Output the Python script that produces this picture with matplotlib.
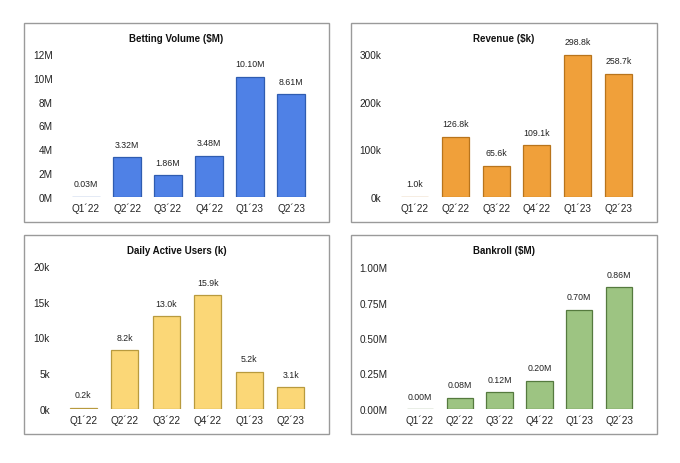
import matplotlib.pyplot as plt
from matplotlib.patches import Rectangle

plt.rcParams['font.family'] = ['Liberation Sans', 'DejaVu Sans']

quarters = ["Q1´22", "Q2´22", "Q3´22", "Q4´22", "Q1´23", "Q2´23"]

betting = [0.03, 3.32, 1.86, 3.48, 10.10, 8.61]
revenue = [1.0, 126.8, 65.6, 109.1, 298.8, 258.7]
dau = [0.2, 8.2, 13.0, 15.9, 5.2, 3.1]
bankroll = [0.00, 0.08, 0.12, 0.20, 0.70, 0.86]

betting_ticks = [0, 2, 4, 6, 8, 10, 12]
revenue_ticks = [0, 100, 200, 300]
dau_ticks = [0, 5, 10, 15, 20]
bankroll_ticks = [0, 0.25, 0.5, 0.75, 1.0]

W, H = 680, 464


def px_axes(fig, left, right, y0, ytop):
    return fig.add_axes([left / W, 1 - y0 / H, (right - left) / W, (y0 - ytop) / H])


def panel_box(fig, x0, y0, x1, y1):
    fig.patches.append(Rectangle((x0 / W, 1 - y1 / H), (x1 - x0) / W, (y1 - y0) / H,
                                 transform=fig.transFigure, fill=False,
                                 edgecolor='#9a9a9a', linewidth=1.0))


def plot_panel(ax, values, ticks, ymax, tickfmt, labelfmt, color, edge, title, box):
    x = range(len(values))
    ax.bar(x, values, width=0.66, color=color, edgecolor=edge, linewidth=0.9)
    for i, v in enumerate(values):
        ax.annotate(labelfmt.format(v), (i, v), xytext=(0, 6), textcoords='offset points',
                    ha='center', va='bottom', fontsize=6.3, color='#222222')
    ax.set_xlim(-0.5, len(values) - 0.5)
    ax.set_ylim(0, ymax)
    ax.set_yticks(ticks)
    ax.set_yticklabels([tickfmt.format(t) for t in ticks])
    ax.set_xticks(list(x))
    ax.set_xticklabels(quarters)
    ax.tick_params(axis='y', length=0, pad=9, labelsize=7.2, labelcolor='#222222')
    ax.tick_params(axis='x', length=0, pad=4, labelsize=7.2, labelcolor='#222222')
    for s in ax.spines.values():
        s.set_visible(False)
    ax.patch.set_alpha(0)
    x0, y0, x1, y1 = box
    fig = ax.figure
    fig.text((x0 + x1) / 2 / W, 1 - (y0 + 15) / H, title, ha='center', va='center',
             fontsize=7.0, fontweight='bold', color='#111111')


fig = plt.figure(figsize=(6.8, 4.64), dpi=100)

box1 = (24, 24, 329, 223)
box2 = (351, 24, 657, 223)
box3 = (24, 236, 329, 435)
box4 = (351, 236, 657, 435)
for b in (box1, box2, box3, box4):
    panel_box(fig, *b)

ax1 = px_axes(fig, 65.5, 311.5, 198, 55)
plot_panel(ax1, betting, betting_ticks, 12, "{:d}M", "{:.2f}M",
           '#4f81e6', '#2f5cb0', "Betting Volume ($M)", box1)

ax2 = px_axes(fig, 394, 639, 198, 55)
plot_panel(ax2, revenue, revenue_ticks, 300, "{:d}k", "{:.1f}k",
           '#f0a03a', '#b8741c', "Revenue ($k)", box2)

ax3 = px_axes(fig, 62.5, 311.5, 410, 267)
plot_panel(ax3, dau, dau_ticks, 20, "{:d}k", "{:.1f}k",
           '#fbd777', '#b89a3e', "Daily Active Users (k)", box3)

ax4 = px_axes(fig, 400, 639, 410, 268)
plot_panel(ax4, bankroll, bankroll_ticks, 1.0, "{:.2f}M", "{:.2f}M",
           '#9dc482', '#557a3e', "Bankroll ($M)", box4)

fig.savefig("out.png", dpi=100, facecolor='white')
